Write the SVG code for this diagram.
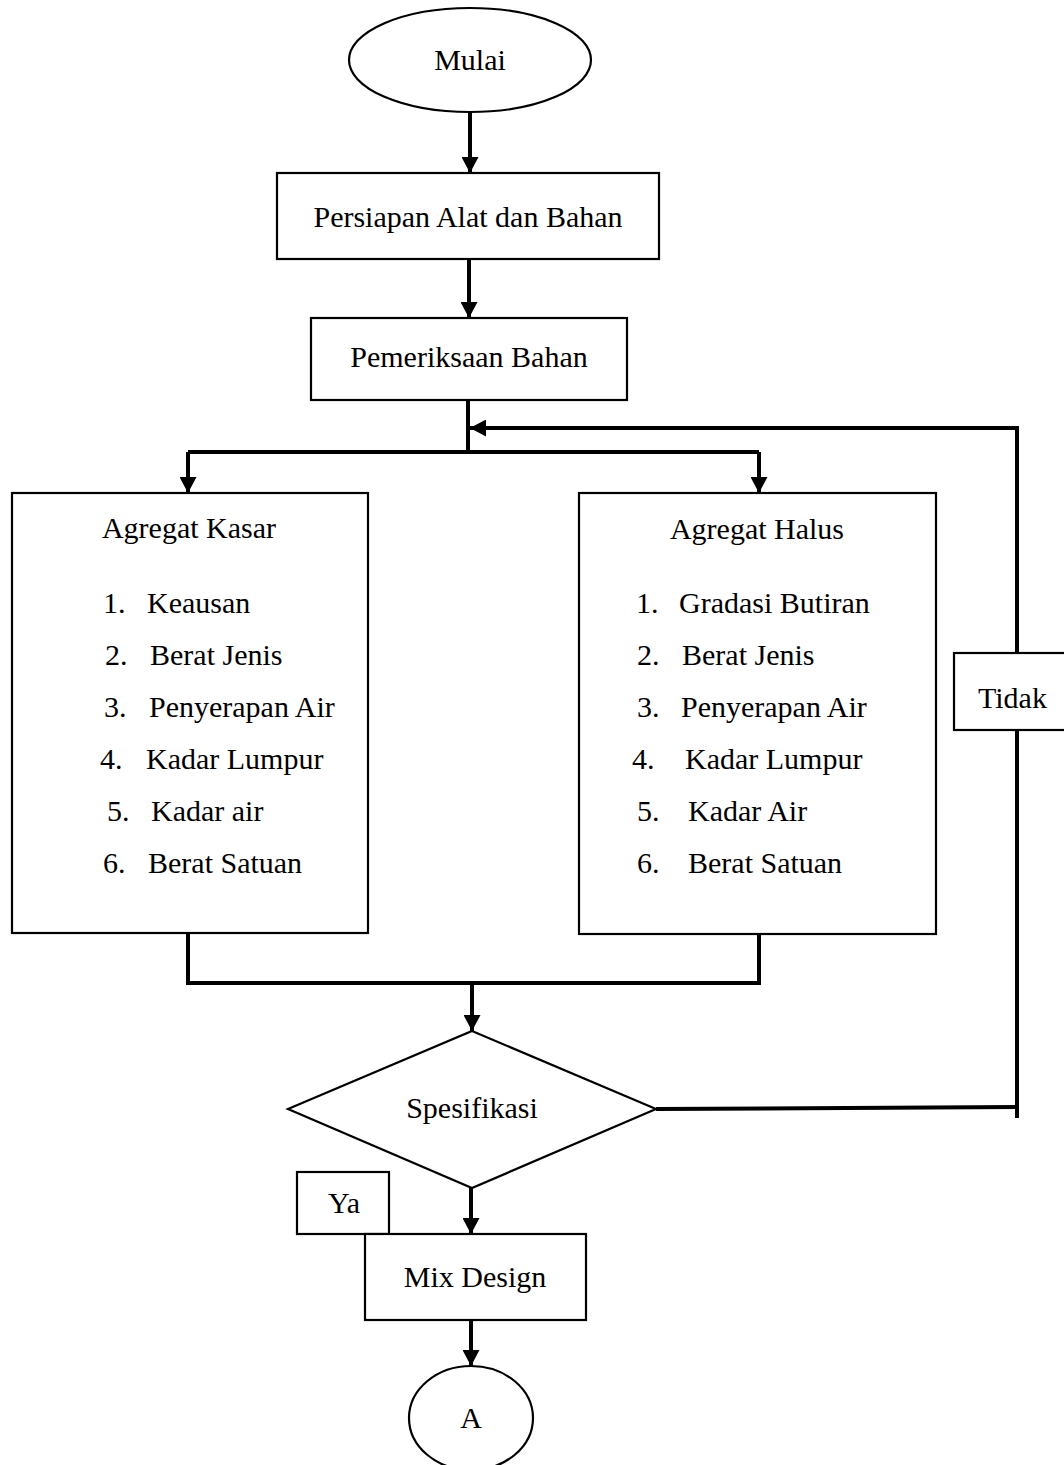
<svg xmlns="http://www.w3.org/2000/svg" width="1064" height="1465" viewBox="0 0 1064 1465">
<style>
.n{fill:#fff;stroke:#000;stroke-width:2.2}
.t{font-family:"Liberation Serif","Times New Roman",serif;font-size:30px;fill:#000}
.c{text-anchor:middle}
.l{fill:none;stroke:#000;stroke-width:4}
</style>
<defs>
<marker id="ah" markerUnits="userSpaceOnUse" markerWidth="17" markerHeight="17" viewBox="0 0 17 17" refX="16" refY="8.5" orient="auto">
<path d="M0,0 L16,8.5 L0,17 Z" fill="#000"/>
</marker>
</defs>
<rect width="1064" height="1465" fill="#fff"/>
<g id="connectors">
<line class="l" x1="470" y1="113" x2="470" y2="173" marker-end="url(#ah)"/>
<line class="l" x1="469" y1="259" x2="469" y2="318" marker-end="url(#ah)"/>
<polyline class="l" points="468,400 468,452"/>
<polyline class="l" points="188,452 759,452"/>
<line class="l" x1="188" y1="452" x2="188" y2="493" marker-end="url(#ah)"/>
<line class="l" x1="759" y1="452" x2="759" y2="493" marker-end="url(#ah)"/>
<polyline class="l" points="188,933 188,983 759,983 759,935"/>
<line class="l" x1="472" y1="983" x2="472" y2="1031" marker-end="url(#ah)"/>
<polyline class="l" points="656,1109 1017,1107"/>
<polyline class="l" points="1017,1118 1017,428 470,428" marker-end="url(#ah)"/>
<line class="l" x1="471" y1="1188" x2="471" y2="1234" marker-end="url(#ah)"/>
<line class="l" x1="471" y1="1320" x2="471" y2="1366" marker-end="url(#ah)"/>
</g>
<g id="mulai">
<ellipse class="n" cx="470" cy="60" rx="121" ry="52"/>
<text class="t c" x="470" y="70">Mulai</text>
</g>
<g id="persiapan">
<rect class="n" x="277" y="173" width="382" height="86"/>
<text class="t c" x="468" y="227">Persiapan Alat dan Bahan</text>
</g>
<g id="pemeriksaan">
<rect class="n" x="311" y="318" width="316" height="82"/>
<text class="t c" x="469" y="367">Pemeriksaan Bahan</text>
</g>
<g id="agregat-kasar">
<rect class="n" x="12" y="493" width="356" height="440"/>
<text class="t c" x="189" y="538">Agregat Kasar</text>
<text class="t" x="103" y="613">1.</text><text class="t" x="147" y="613">Keausan</text>
<text class="t" x="105" y="665">2.</text><text class="t" x="150" y="665">Berat Jenis</text>
<text class="t" x="104" y="717">3.</text><text class="t" x="149" y="717">Penyerapan Air</text>
<text class="t" x="100" y="769">4.</text><text class="t" x="146" y="769">Kadar Lumpur</text>
<text class="t" x="107" y="821">5.</text><text class="t" x="151" y="821">Kadar air</text>
<text class="t" x="103" y="873">6.</text><text class="t" x="148" y="873">Berat Satuan</text>
</g>
<g id="agregat-halus">
<rect class="n" x="579" y="493" width="357" height="441"/>
<text class="t c" x="757" y="539">Agregat Halus</text>
<text class="t" x="636" y="613">1.</text><text class="t" x="679" y="613">Gradasi Butiran</text>
<text class="t" x="637" y="665">2.</text><text class="t" x="682" y="665">Berat Jenis</text>
<text class="t" x="637" y="717">3.</text><text class="t" x="681" y="717">Penyerapan Air</text>
<text class="t" x="632" y="769">4.</text><text class="t" x="685" y="769">Kadar Lumpur</text>
<text class="t" x="637" y="821">5.</text><text class="t" x="688" y="821">Kadar Air</text>
<text class="t" x="637" y="873">6.</text><text class="t" x="688" y="873">Berat Satuan</text>
</g>
<g id="tidak">
<rect class="n" x="954" y="653" width="114" height="77"/>
<text class="t" x="978" y="708">Tidak</text>
</g>
<g id="spesifikasi">
<polygon class="n" points="472,1031 656,1109 472,1188 288,1109"/>
<text class="t c" x="472" y="1118">Spesifikasi</text>
</g>
<g id="ya">
<rect class="n" x="297" y="1172" width="92" height="62"/>
<text class="t c" x="344" y="1213">Ya</text>
</g>
<g id="mix-design">
<rect class="n" x="365" y="1234" width="221" height="86"/>
<text class="t c" x="475" y="1287">Mix Design</text>
</g>
<g id="a">
<ellipse class="n" cx="471" cy="1418" rx="62" ry="52"/>
<text class="t c" x="471" y="1428">A</text>
</g>
</svg>
